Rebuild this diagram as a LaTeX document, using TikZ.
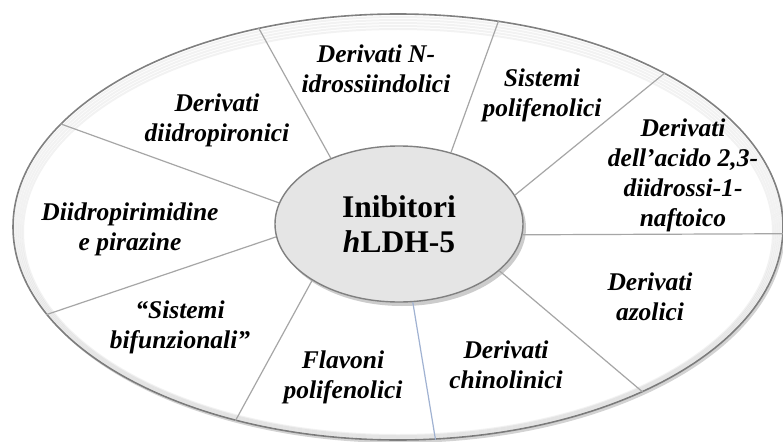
\documentclass[tikz,border=0pt]{standalone}
\usepackage{fontspec}
\setmainfont{Liberation Serif}
\usetikzlibrary{shapes.geometric,shadows}
\definecolor{azzurro}{RGB}{160,178,210}

\begin{document}
\begin{tikzpicture}[
  x=1pt, y=-1pt,
  bordo/.style={ellipse, draw=black!50, line width=1.6pt, fill=white, inner sep=0pt,
                minimum width=770pt, minimum height=426pt,
                drop shadow={shadow xshift=2pt, shadow yshift=-3pt, opacity=.35}},
  nucleo/.style={ellipse, draw=black!50, line width=1.4pt, fill=black!10, inner sep=0pt,
                 minimum width=248pt, minimum height=156pt, align=center,
                 font=\fontsize{31.5}{35}\selectfont\bfseries,
                 drop shadow={shadow xshift=3pt, shadow yshift=-4pt, opacity=.4}},
  classe/.style={align=center, inner sep=0pt, font=\fontsize{25.5}{30}\selectfont\bfseries\itshape},
  raggio/.style={draw=black!35, line width=1.2pt},
]
\useasboundingbox (0,0) rectangle (783,441);

% ---- Ellisse esterna e nucleo
\node[bordo] (rim) at (398,227) {};
\foreach \k in {1,...,5}
  \draw[black, opacity=.05, line width=2pt] (398,227+\k) ellipse [x radius=385-2*\k, y radius=213-2*\k];
\node[nucleo] (core) at (399,224) {Inibitori\\ \textit{h}LDH-5};

% ---- Raggi
\foreach \da/\a in {136/125, 170/163, 54/64, 14/30, 355/359, 335/326, 213/230, 186/194}
  \draw[raggio] (core.\da) -- (rim.\a);
\draw[raggio, draw=azzurro] (core.280) -- (rim.280);

% ---- Classi di inibitori
\node[classe] (indolici) at (376,69) {Derivati N-\\ idrossiindolici};
\node[classe] (polifen) at (542,95) {Sistemi\\ polifenolici};
\node[classe] (naftoico) at (683,175) {Derivati\\ dell’acido 2,3-\\ diidrossi-1-\\ naftoico};
\node[classe] (azolici) at (650,297) {Derivati\\ azolici};
\node[classe] (chinolin) at (506,365) {Derivati\\ chinolinici};
\node[classe] (flavoni) at (343,377) {Flavoni\\ polifenolici};
\node[classe] (bifunz) at (180,327) {“Sistemi\\ bifunzionali”};
\node[classe] (pirazine) at (130,229) {Diidropirimidine\\ e pirazine};
\node[classe] (pironici) at (217,120) {Derivati\\ diidropironici};
\end{tikzpicture}
\end{document}
